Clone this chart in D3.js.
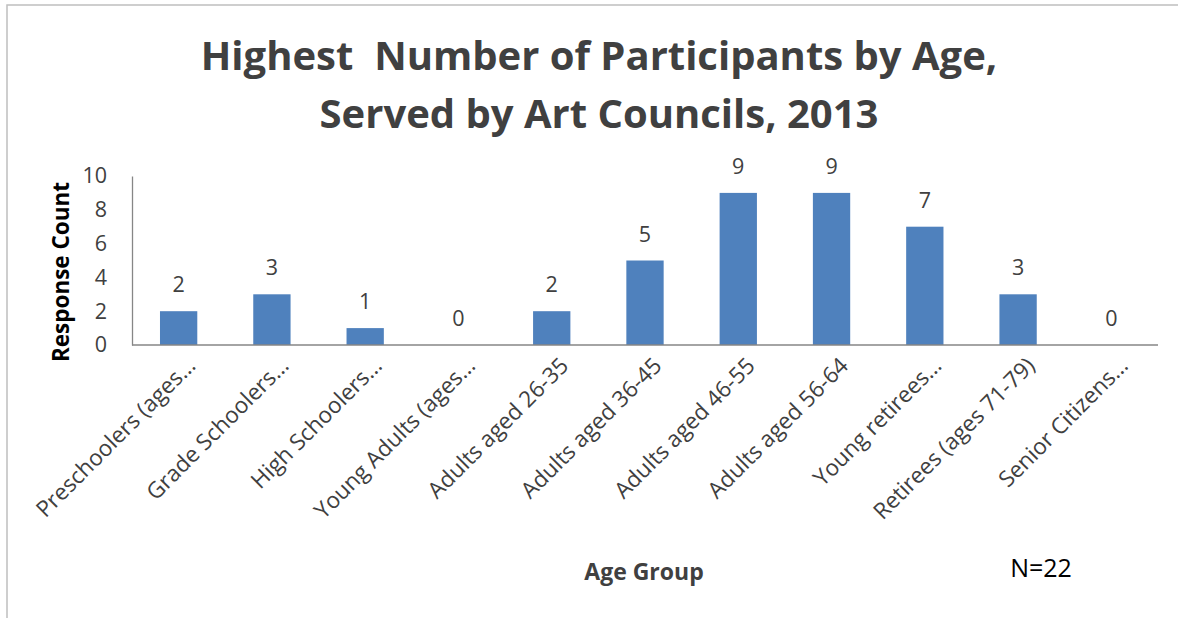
<!DOCTYPE html>
<html>
<head>
<meta charset="utf-8">
<script src="https://cdn.jsdelivr.net/npm/d3@7"></script>
<style>
  html, body { margin: 0; padding: 0; background: #ffffff; }
  svg { display: block; }
  text { font-family: "Open Sans", Lato, sans-serif; }
</style>
</head>
<body>
<svg id="chart" width="1178" height="618"></svg>
<script>
// Age groups (labels as truncated on the category axis)
const categories = [
  "Preschoolers (ages…",
  "Grade Schoolers…",
  "High Schoolers…",
  "Young Adults (ages…",
  "Adults aged 26-35",
  "Adults aged 36-45",
  "Adults aged 46-55",
  "Adults aged 56-64",
  "Young retirees…",
  "Retirees (ages 71-79)",
  "Senior Citizens…"
];
// Response counts per age group
const counts = [2, 3, 1, 0, 2, 5, 9, 9, 7, 3, 0];
const yTicks = [0, 2, 4, 6, 8, 10];
const titleLines = ["Highest  Number of Participants by Age,", "Served by Art Councils, 2013"];

const svg = d3.select("#chart");
const W = 1178, H = 618;
const FONT = "'Open Sans', Lato, sans-serif";

// chart frame
svg.append("rect")
  .attr("x", 7).attr("y", 5)
  .attr("width", W + 10).attr("height", H + 10)
  .attr("fill", "#ffffff")
  .attr("stroke", "#bfbfbf").attr("stroke-width", 1.5);

const x = d3.scaleBand()
  .domain(categories)
  .range([132, 1158])
  .paddingInner(0.6)
  .paddingOuter(0.3);

const y = d3.scaleLinear()
  .domain([0, 10])
  .range([345, 176]);

// title
svg.append("g").selectAll("text")
  .data(titleLines)
  .join("text")
  .attr("x", 599)
  .attr("y", (d, i) => 70 + i * 58)
  .attr("text-anchor", "middle")
  .attr("font-size", 40)
  .attr("font-weight", "bold")
  .attr("fill", "#404040")
  .attr("xml:space", "preserve")
  .style("white-space", "pre")
  .text(d => d);

// bars
svg.append("g").selectAll("rect")
  .data(counts)
  .join("rect")
  .attr("x", (d, i) => x(categories[i]))
  .attr("y", d => y(d))
  .attr("width", x.bandwidth())
  .attr("height", d => y(0) - y(d))
  .attr("fill", "#4f81bd");

// data labels
svg.append("g").selectAll("text")
  .data(counts)
  .join("text")
  .attr("x", (d, i) => x(categories[i]) + x.bandwidth() / 2)
  .attr("y", d => y(d) - 19)
  .attr("text-anchor", "middle")
  .attr("font-size", 21.5)
  .attr("fill", "#404040")
  .text(d => d);

// y axis
const yAxis = svg.append("g")
  .attr("transform", "translate(132,0)")
  .call(d3.axisLeft(y).tickValues(yTicks).tickSize(0).tickPadding(25));
yAxis.select(".domain").attr("stroke", "#868686").attr("stroke-width", 1.3);
yAxis.selectAll(".tick text")
  .attr("font-size", 21.5)
  .attr("fill", "#404040")
  .attr("font-family", FONT);

// x axis
const xAxis = svg.append("g")
  .attr("transform", "translate(0,345)")
  .call(d3.axisBottom(x).tickSize(0).tickFormat(d => d));
xAxis.select(".domain").attr("stroke", "#868686").attr("stroke-width", 1.3)
  .attr("d", "M132,0H1158");
xAxis.selectAll(".tick text")
  .attr("font-size", 22.5)
  .attr("fill", "#404040")
  .attr("font-family", FONT)
  .attr("text-anchor", "end")
  .attr("dy", 0)
  .attr("transform", "translate(16,20) rotate(-45)");

// axis titles
svg.append("text")
  .attr("transform", "translate(69,272) rotate(-90)")
  .attr("text-anchor", "middle")
  .attr("font-size", 22.5)
  .attr("font-weight", "bold")
  .attr("fill", "#000000")
  .text("Response Count");

svg.append("text")
  .attr("x", 644)
  .attr("y", 580)
  .attr("text-anchor", "middle")
  .attr("font-size", 23)
  .attr("font-weight", "bold")
  .attr("fill", "#404040")
  .text("Age Group");

svg.append("text")
  .attr("x", 1041)
  .attr("y", 577)
  .attr("text-anchor", "middle")
  .attr("font-size", 25)
  .attr("fill", "#000000")
  .text("N=22");
</script>
</body>
</html>
